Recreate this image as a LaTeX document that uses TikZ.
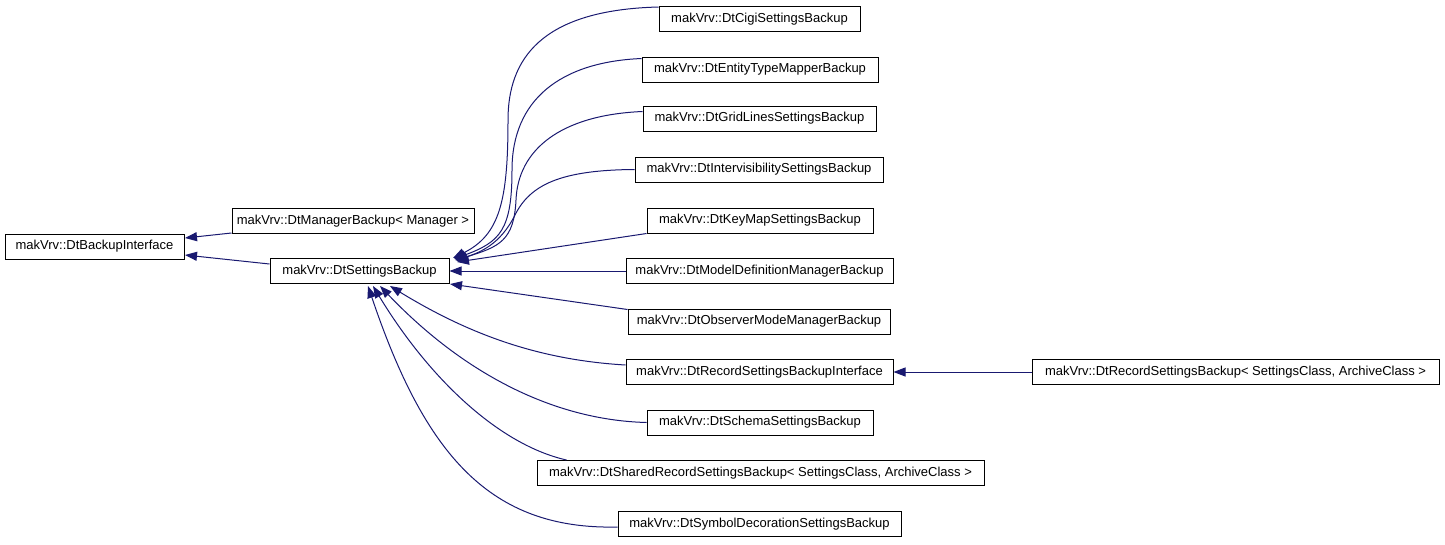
\documentclass[tikz,border=0pt]{standalone}
\usepackage{fontspec}
\setmainfont{Liberation Sans}
\usetikzlibrary{arrows.meta}
\definecolor{edgec}{HTML}{191970}
\begin{document}
\begin{tikzpicture}[x=1pt,y=-1pt,
  cls/.style={draw=black,line width=1pt,fill=white,minimum height=25pt,inner sep=0pt,
    font=\fontsize{13}{15}\selectfont},
  edge/.style={draw=edgec,line width=1pt,-{Triangle[length=12pt,width=9pt]}}]
\useasboundingbox (0,0) rectangle (1445,544);
\node[cls,minimum width=179pt] (bi) at (94.5,246.5) {makVrv::DtBackupInterface};
\node[cls,minimum width=242pt] (mgr) at (353,221) {makVrv::DtManagerBackup< Manager >};
\node[cls,minimum width=179pt] (sb) at (359.5,271) {makVrv::DtSettingsBackup};
\node[cls,minimum width=201pt] (cigi) at (759.5,19) {makVrv::DtCigiSettingsBackup};
\node[cls,minimum width=236pt] (ent) at (760,69.5) {makVrv::DtEntityTypeMapperBackup};
\node[cls,minimum width=233pt] (grid) at (759.5,118.5) {makVrv::DtGridLinesSettingsBackup};
\node[cls,minimum width=248pt] (intv) at (759,169.5) {makVrv::DtIntervisibilitySettingsBackup};
\node[cls,minimum width=226pt] (key) at (760,220.5) {makVrv::DtKeyMapSettingsBackup};
\node[cls,minimum width=267pt] (model) at (759.5,271) {makVrv::DtModelDefinitionManagerBackup};
\node[cls,minimum width=262pt] (obs) at (759,321.5) {makVrv::DtObserverModeManagerBackup};
\node[cls,minimum width=267pt] (rec) at (759.5,372) {makVrv::DtRecordSettingsBackupInterface};
\node[cls,minimum width=226pt] (schema) at (760,422.5) {makVrv::DtSchemaSettingsBackup};
\node[cls,minimum width=447pt] (shared) at (760.5,473) {makVrv::DtSharedRecordSettingsBackup< SettingsClass, ArchiveClass >};
\node[cls,minimum width=283pt] (sym) at (759.5,524) {makVrv::DtSymbolDecorationSettingsBackup};
\node[cls,minimum width=407pt] (recsb) at (1235.5,372) {makVrv::DtRecordSettingsBackup< SettingsClass, ArchiveClass >};
% base edges
\draw[edge] ([yshift=1pt]mgr.south west) -- (185,238);
\draw[edge] ([yshift=7pt]sb.west) -- (185,255);
\draw[edge] (recsb.west) -- (rec.east);
% top edges
\draw[edge] ([yshift=-1pt]cigi.north west) .. controls (540,10) and (508,60) .. (508,120)
   .. controls (508,200) and (500,235) .. (453,258);
\draw[edge] ([yshift=-2pt]ent.north west) .. controls (560,62) and (512,100) .. (512,170)
   .. controls (512,230) and (500,242) .. (454,259);
\draw[edge] ([yshift=-6pt]grid.north west) .. controls (560,115) and (518,150) .. (516,200)
   .. controls (514,240) and (500,247) .. (455,260);
\draw[edge] (intv.west) .. controls (560,170) and (530,185) .. (515,215)
   .. controls (500,245) and (480,252) .. (456,261);
\draw[edge] (key.south west) -- (457,262);
\draw[edge] (model.west) -- (sb.east);
\draw[edge] ([yshift=12pt]obs.west) -- (450,284);
% bottom edges
\draw[edge] ([yshift=7pt]rec.west) .. controls (540,360) and (470,335) .. (390,286);
\draw[edge] (schema.west) .. controls (550,420) and (460,370) .. (380,286);
\draw[edge] ([xshift=30pt]shared.north west) .. controls (500,445) and (430,380) .. (373,286);
\draw[edge] ([yshift=-3pt]sym.west) .. controls (490,530) and (425,455) .. (368,286);
\end{tikzpicture}
\end{document}
